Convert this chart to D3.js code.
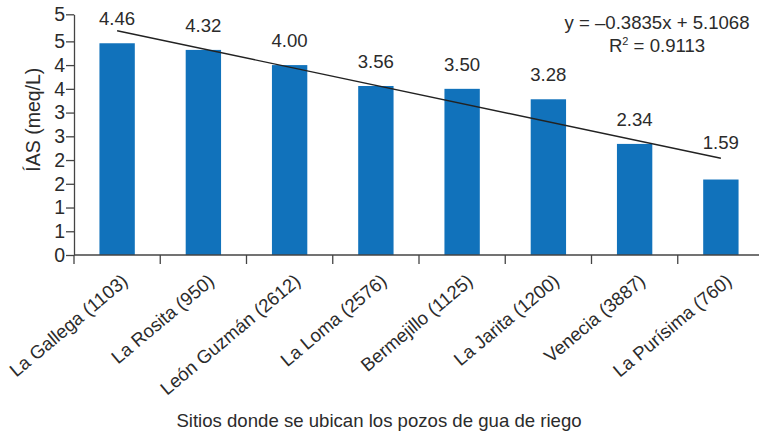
<!DOCTYPE html>
<html>
<head>
<meta charset="utf-8">
<script src="https://cdn.jsdelivr.net/npm/d3@7/dist/d3.min.js"></script>
<style>
  html, body { margin: 0; padding: 0; background: #fff; }
  svg { display: block; }
  text { font-family: "Liberation Sans", Arial, Helvetica, sans-serif; fill: #2b2b2b; }
</style>
</head>
<body>
<svg id="chart" width="759" height="437"></svg>
<script>
// Sitios de muestreo (profundidad del pozo entre paréntesis)
const sites = [
  "La Gallega (1103)", "La Rosita (950)", "León Guzmán (2612)", "La Loma (2576)",
  "Bermejillo (1125)", "La Jarita (1200)", "Venecia (3887)", "La Purísima (760)"
];
// Índice de absorción de sodio por sitio (meq/L)
const ias = [4.46, 4.32, 4.00, 3.56, 3.50, 3.28, 2.34, 1.59];
const valueLabels = ["4.46", "4.32", "4.00", "3.56", "3.50", "3.28", "2.34", "1.59"];

// Eje Y: marcas cada 0.5 y etiquetas redondeadas a enteros
const yTickValues = [0, 0.5, 1, 1.5, 2, 2.5, 3, 3.5, 4, 4.5, 5.07];
const yTickLabels = ["0", "1", "1", "2", "2", "3", "3", "4", "4", "5", "5"];
const yMax = 5.07;

// Línea de tendencia lineal
const trendSlope = -0.3835;
const trendIntercept = 5.1068;
const equationText = "y = \u20130.3835x + 5.1068";
const r2Text = " = 0.9113";

const xTitle = "Sitios donde se ubican los pozos de gua de riego";
const yTitle = "ÍAS (meq/L)";

const svg = d3.select("#chart");
const plotLeft = 74, plotRight = 764, plotTop = 14.3, plotBottom = 255;
const ink = "#2b2b2b";
const axisInk = "#444";
const fs = 18.6;

const x = d3.scaleBand().domain(sites).range([plotLeft, plotRight])
  .paddingInner(0.59).paddingOuter(0.295);
const y = d3.scaleLinear().domain([0, yMax]).range([plotBottom, plotTop]);

// Barras
svg.append("g").selectAll("rect").data(sites).join("rect")
  .attr("x", d => x(d))
  .attr("width", x.bandwidth())
  .attr("y", (d, i) => y(ias[i]))
  .attr("height", (d, i) => y(0) - y(ias[i]))
  .attr("fill", "#1172bb");

// Eje Y
const yAxis = d3.axisLeft(y).tickValues(yTickValues)
  .tickFormat((d, i) => yTickLabels[i]).tickSize(8).tickSizeOuter(0);
const gy = svg.append("g").attr("transform", `translate(${plotLeft},0)`).call(yAxis);
gy.select(".domain").attr("stroke", axisInk).attr("stroke-width", 1.3);
gy.selectAll(".tick line").attr("stroke", axisInk).attr("stroke-width", 1.3);
gy.selectAll(".tick text").attr("x", -9).attr("font-size", 19.5)
  .attr("font-family", "Liberation Sans, Arial, sans-serif").attr("fill", ink);

// Eje X: línea base y marcas entre categorías
const step = x.step();
const gx = svg.append("g");
gx.append("line").attr("x1", plotLeft).attr("x2", plotRight).attr("y1", plotBottom).attr("y2", plotBottom)
  .attr("stroke", axisInk).attr("stroke-width", 1.3);
gx.selectAll("line.tk").data(d3.range(sites.length + 1)).join("line").attr("class", "tk")
  .attr("x1", k => plotLeft + k * step).attr("x2", k => plotLeft + k * step)
  .attr("y1", plotBottom).attr("y2", plotBottom + 9)
  .attr("stroke", axisInk).attr("stroke-width", 1.3);

// Etiquetas de categoría inclinadas
gx.selectAll("text").data(sites).join("text")
  .attr("transform", d => `translate(${x(d) + x.bandwidth() / 2 + 12},${plotBottom + 28}) rotate(-40)`)
  .attr("text-anchor", "end")
  .attr("font-size", fs)
  .text(d => d);

// Línea de tendencia
const cx = i => x(sites[i]) + x.bandwidth() / 2;
const trend = d3.range(sites.length).map(i => [cx(i), y(trendSlope * (i + 1) + trendIntercept)]);
svg.append("path")
  .attr("d", d3.line()([trend[0], trend[trend.length - 1]]))
  .attr("stroke", "#222").attr("stroke-width", 1.4).attr("fill", "none");

// Valores sobre las barras
svg.append("g").selectAll("text").data(sites).join("text")
  .attr("x", (d, i) => cx(i))
  .attr("y", (d, i) => y(ias[i]) - (i === sites.length - 1 ? 31 : 18))
  .attr("text-anchor", "middle")
  .attr("font-size", fs)
  .text((d, i) => valueLabels[i]);

// Ecuación y R²
svg.append("text").attr("x", 657).attr("y", 29).attr("text-anchor", "middle")
  .attr("font-size", fs).text(equationText);
const r2 = svg.append("text").attr("x", 657).attr("y", 52).attr("text-anchor", "middle")
  .attr("font-size", fs);
r2.append("tspan").text("R");
r2.append("tspan").attr("font-size", 11).attr("dy", -7).text("2");
r2.append("tspan").attr("dy", 7).text(r2Text);

// Títulos de ejes
svg.append("text").attr("x", 379).attr("y", 427).attr("text-anchor", "middle")
  .attr("font-size", fs).text(xTitle);
svg.append("text").attr("transform", `translate(40,${(plotTop + plotBottom) / 2 - 15}) rotate(-90)`)
  .attr("text-anchor", "middle").attr("font-size", 19.5).text(yTitle);
</script>
</body>
</html>
